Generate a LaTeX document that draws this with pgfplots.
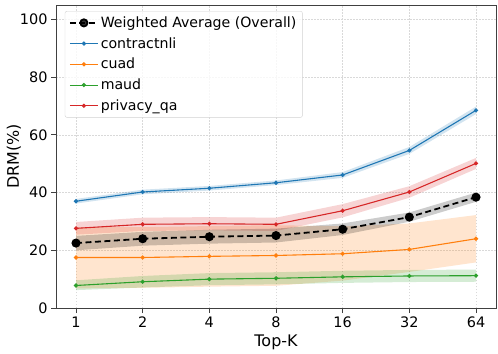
\documentclass[border=0pt]{standalone}
\usepackage{fontspec}
\setmainfont{DejaVu Sans}
\usepackage{pgfplots}
\pgfplotsset{compat=1.18}
\usepgfplotslibrary{fillbetween}
\usepackage{pgfplotstable}

\definecolor{tabblue}{HTML}{1F77B4}
\definecolor{taborange}{HTML}{FF7F0E}
\definecolor{tabgreen}{HTML}{2CA02C}
\definecolor{tabred}{HTML}{D62728}

% x = index of Top-K (1,2,4,...,64); m = mean, lo/hi = shaded band
\pgfplotstableread{
x m lo hi
0 22.5 20.0 25.0
1 24.0 21.6 26.4
2 24.7 22.3 27.1
3 25.1 22.7 27.5
4 27.3 25.3 29.3
5 31.5 29.9 33.1
6 38.4 36.8 40.0
}\avg
\pgfplotstableread{
x m lo hi
0 37.0 36.2 37.8
1 40.2 39.4 41.0
2 41.5 40.7 42.3
3 43.4 42.6 44.2
4 46.1 45.1 47.1
5 54.6 53.4 55.8
6 68.5 67.2 69.8
}\contract
\pgfplotstableread{
x m lo hi
0 17.5 6.8 28.0
1 17.5 7.0 28.0
2 17.9 7.4 28.4
3 18.2 7.7 28.7
4 18.8 9.5 28.3
5 20.3 12.5 29.3
6 24.0 15.8 32.2
}\cuad
\pgfplotstableread{
x m lo hi
0 7.8 6.2 9.6
1 9.1 7.1 11.1
2 10.0 7.9 12.1
3 10.3 8.2 12.4
4 10.8 8.7 12.9
5 11.1 9.0 13.2
6 11.2 9.1 13.3
}\maud
\pgfplotstableread{
x m lo hi
0 27.6 25.4 29.8
1 29.0 26.7 31.3
2 29.2 26.9 31.5
3 29.0 26.7 31.3
4 33.7 31.4 36.0
5 40.2 38.2 42.2
6 50.1 48.2 52.0
}\privacy

\begin{document}
\begin{tikzpicture}[x=1bp,y=1bp]
\begin{axis}[
  scale only axis,
  width=440bp,height=303bp,
  xmin=-0.3,xmax=6.3,ymin=0,ymax=105,
  xtick={0,1,2,3,4,5,6},
  xticklabels={1,2,4,8,16,32,64},
  ytick={0,20,40,60,80,100},
  xlabel={Top-K},ylabel={DRM(\%)},
  label style={font=\fontsize{16}{18}\selectfont},
  tick label style={font=\fontsize{14.5}{16}\selectfont},
  /pgf/number format/assume math mode=true,
  xlabel style={yshift=-1bp},
  ylabel style={yshift=-8bp},
  axis line style={draw=black!75,line width=0.8pt},
  tick style={draw=black!75,line width=0.8pt},
  tick align=outside,
  major tick length=5bp,
  xtick pos=bottom,ytick pos=left,
  grid=major,
  grid style={gray!30,line width=0.6pt,dash pattern=on 1.5bp off 1.5bp},
  legend cell align=left,
  legend style={font=\fontsize{14.2}{16}\selectfont,at={(0.02,0.98)},anchor=north west,
    draw=gray!35,fill=white,fill opacity=0.8,text opacity=1,rounded corners=2bp,
    row sep=4.5bp,inner xsep=4bp,inner ysep=3.5bp},
  legend image code/.code={\draw[mark repeat=2,mark phase=2]
    plot coordinates {(0bp,0bp)(14bp,0bp)(28bp,0bp)};},
]
% shaded bands
\addplot[name path=cuhi,draw=none,forget plot] table[x=x,y=hi] {\cuad};
\addplot[name path=culo,draw=none,forget plot] table[x=x,y=lo] {\cuad};
\addplot[taborange,fill opacity=0.2,draw=none,forget plot] fill between[of=cuhi and culo];
\addplot[name path=mahi,draw=none,forget plot] table[x=x,y=hi] {\maud};
\addplot[name path=malo,draw=none,forget plot] table[x=x,y=lo] {\maud};
\addplot[tabgreen,fill opacity=0.2,draw=none,forget plot] fill between[of=mahi and malo];
\addplot[name path=prhi,draw=none,forget plot] table[x=x,y=hi] {\privacy};
\addplot[name path=prlo,draw=none,forget plot] table[x=x,y=lo] {\privacy};
\addplot[tabred,fill opacity=0.2,draw=none,forget plot] fill between[of=prhi and prlo];
\addplot[name path=cohi,draw=none,forget plot] table[x=x,y=hi] {\contract};
\addplot[name path=colo,draw=none,forget plot] table[x=x,y=lo] {\contract};
\addplot[tabblue,fill opacity=0.2,draw=none,forget plot] fill between[of=cohi and colo];
\addplot[name path=avhi,draw=none,forget plot] table[x=x,y=hi] {\avg};
\addplot[name path=avlo,draw=none,forget plot] table[x=x,y=lo] {\avg};
\addplot[black,fill opacity=0.2,draw=none,forget plot] fill between[of=avhi and avlo];
% lines
\addplot[black,line width=1.8pt,dash pattern=on 6bp off 3.5bp,mark=*,mark size=3.6bp,mark options={solid}] table[x=x,y=m] {\avg};
\addlegendentry{Weighted Average (Overall)}
\addplot[tabblue,line width=1.1pt,mark=*,mark size=1.5bp] table[x=x,y=m] {\contract};
\addlegendentry{contractnli}
\addplot[taborange,line width=1.1pt,mark=*,mark size=1.5bp] table[x=x,y=m] {\cuad};
\addlegendentry{cuad}
\addplot[tabgreen,line width=1.1pt,mark=*,mark size=1.5bp] table[x=x,y=m] {\maud};
\addlegendentry{maud}
\addplot[tabred,line width=1.1pt,mark=*,mark size=1.5bp] table[x=x,y=m] {\privacy};
\addlegendentry{privacy\_qa}
\end{axis}
% fix outer margins to match the reference canvas
\path ([shift={(-56bp,-44bp)}]current axis.south west)
  -- ([shift={(2bp,5bp)}]current axis.north east);
\end{tikzpicture}
\end{document}
